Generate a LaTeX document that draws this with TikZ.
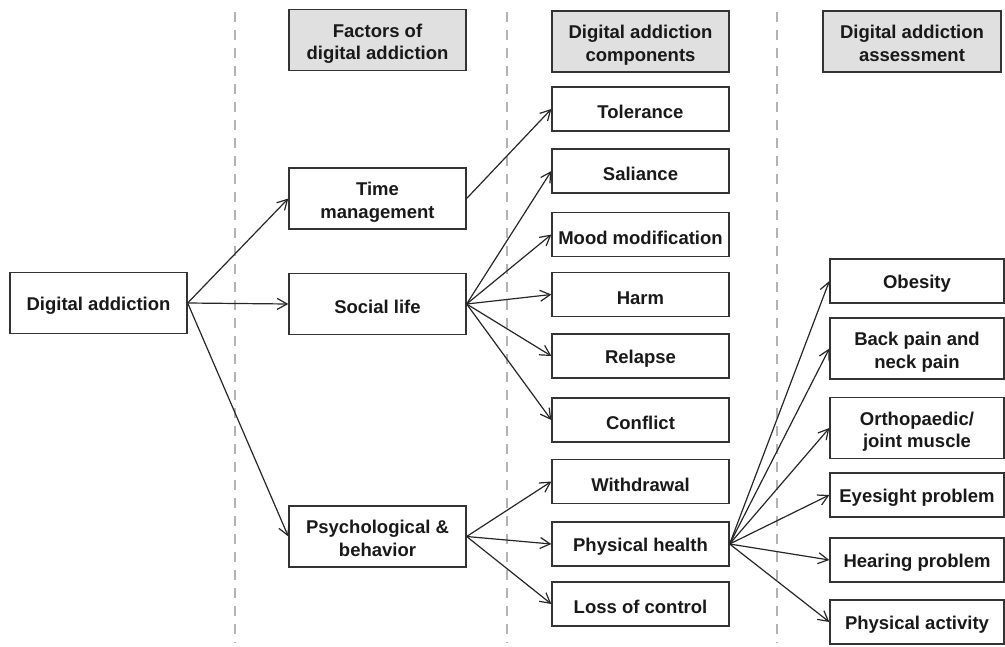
\documentclass[tikz,border=0pt]{standalone}
\usepackage{fontspec}
\setmainfont{Liberation Sans}
\usetikzlibrary{arrows.meta,positioning}

\newcommand{\tworows}[2]{\begin{tabular}{@{}c@{}}\rule{0pt}{23.5pt}#1\\#2\end{tabular}}

\tikzset{
  box/.style={rectangle,draw=black!80,line width=1.3pt,inner sep=0pt,align=center,
    minimum width=177pt,minimum height=44pt,
    font=\fontsize{18.5}{22.5}\selectfont\bfseries,text=black!90,
    execute at begin node={\rule{0pt}{19.5pt}}},
  tallbox/.style={box,minimum height=61pt},
  headbox/.style={tallbox,fill=black!12},
  link/.style={-{Straight Barb[length=10pt,width=11pt,line width=1.2pt]},line width=1.2pt,draw=black!85},
  colsep/.style={draw=black!30,line width=1.4pt,dash pattern=on 10pt off 8pt}
}

\begin{document}
\begin{tikzpicture}[x=1pt,y=-1pt]
  \useasboundingbox (0,0) rectangle (1005,646);

  \draw[colsep] (235,12) -- (235,643);
  \draw[colsep] (507,12) -- (507,643);
  \draw[colsep] (777,12) -- (777,643);

  \node[tallbox] (addiction) at (98.5,303) {Digital addiction};

  \node[headbox] (factors) at (377.5,40) {\tworows{Factors of}{digital addiction}};
  \node[tallbox] (time) at (377.5,198.5) {\tworows{Time}{management}};
  \node[tallbox] (social) at (377.5,304) {Social life};
  \node[tallbox] (psych) at (377.5,536.5) {\tworows{Psychological \&}{behavior}};

  \node[headbox] (components) at (640.5,41.5) {\tworows{Digital addiction}{components}};
  \node[box] (tolerance) at (640.5,109) {Tolerance};
  \node[box] (saliance) at (640.5,171) {Saliance};
  \node[box] (mood) at (640.5,234.5) {Mood modification};
  \node[box] (harm) at (640.5,294.5) {Harm};
  \node[box] (relapse) at (640.5,356) {Relapse};
  \node[box] (conflict) at (640.5,420) {Conflict};
  \node[box] (withdrawal) at (640.5,481.5) {Withdrawal};
  \node[box] (physical) at (640.5,544) {Physical health};
  \node[box] (loss) at (640.5,604) {Loss of control};

  \node[headbox,minimum width=178pt] (assessment) at (912,41.5) {\tworows{Digital addiction}{assessment}};
  \node[box,minimum width=174pt] (obesity) at (917,281) {Obesity};
  \node[tallbox,minimum width=174pt] (back) at (917,348.5) {\tworows{Back pain and}{neck pain}};
  \node[tallbox,minimum width=174pt] (ortho) at (917,428) {\tworows{Orthopaedic/}{joint muscle}};
  \node[box,minimum width=174pt] (eyesight) at (917,495) {Eyesight problem};
  \node[box,minimum width=174pt] (hearing) at (917,560) {Hearing problem};
  \node[box,minimum width=174pt] (activity) at (917,622) {Physical activity};

  \draw[link] (addiction.east) -- (time.west);
  \draw[link] (addiction.east) -- (social.west);
  \draw[link] (addiction.east) -- (psych.west);

  \draw[link] (time.east) -- (tolerance.west);
  \draw[link] (social.east) -- (saliance.west);
  \draw[link] (social.east) -- (mood.west);
  \draw[link] (social.east) -- (harm.west);
  \draw[link] (social.east) -- (relapse.west);
  \draw[link] (social.east) -- (conflict.west);
  \draw[link] (psych.east) -- (withdrawal.west);
  \draw[link] (psych.east) -- (physical.west);
  \draw[link] (psych.east) -- (loss.west);

  \draw[link] (physical.east) -- (obesity.west);
  \draw[link] (physical.east) -- (back.west);
  \draw[link] (physical.east) -- (ortho.west);
  \draw[link] (physical.east) -- (eyesight.west);
  \draw[link] (physical.east) -- (hearing.west);
  \draw[link] (physical.east) -- (activity.west);
\end{tikzpicture}
\end{document}
